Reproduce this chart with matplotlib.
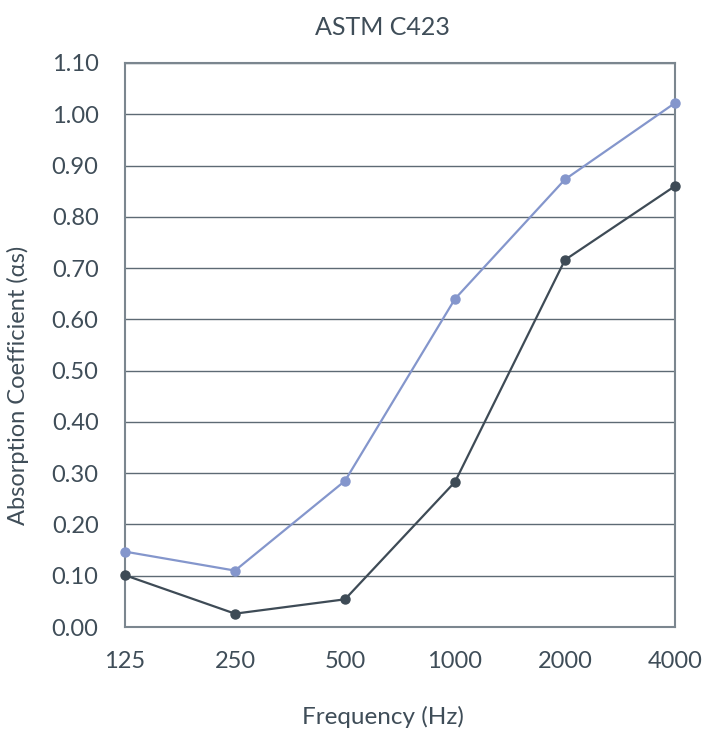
import matplotlib
matplotlib.use("Agg")
import matplotlib.pyplot as plt

freqs = ["125", "250", "500", "1000", "2000", "4000"]
series_a = [0.147, 0.110, 0.285, 0.640, 0.873, 1.022]
series_b = [0.101, 0.026, 0.054, 0.283, 0.716, 0.860]
yticks = [0.0, 0.1, 0.2, 0.3, 0.4, 0.5, 0.6, 0.7, 0.8, 0.9, 1.0, 1.1]

plt.rcParams['font.family'] = ['Lato', 'DejaVu Sans']
text_color = "#3f4d58"
fs = 17

W, H = 703, 731
fig = plt.figure(figsize=(W / 100, H / 100), dpi=100)
L, R, B, T = 125 / W, 675 / W, 1 - 627 / H, 1 - 63 / H
ax = fig.add_axes([L, B, R - L, T - B])

x = list(range(len(freqs)))
ax.plot(x, series_a, color="#8496cc", lw=1.6, marker="o", ms=6.5, zorder=3, clip_on=False)
ax.plot(x, series_b, color="#3e4b56", lw=1.6, marker="o", ms=6.5, zorder=3, clip_on=False)

ax.set_xlim(0, len(freqs) - 1)
ax.set_ylim(0, 1.1)
ax.set_xticks(x)
ax.set_xticklabels(freqs)
ax.set_yticks(yticks)
ax.set_yticklabels([f"{v:.2f}" for v in yticks])
ax.tick_params(axis="both", length=0, labelsize=fs, colors=text_color)
ax.tick_params(axis="x", pad=17)
ax.tick_params(axis="y", pad=19)
ax.grid(axis="y", color="#5d6a74", lw=1.0)
ax.set_axisbelow(True)
for s in ax.spines.values():
    s.set_color("#7b868f")
    s.set_linewidth(1.5)

fig.text(382 / W, 1 - 35 / H, "ASTM C423", fontsize=18, color=text_color,
         ha="center", va="baseline")

ax.set_xlabel("Frequency (Hz)", fontsize=17.5, color=text_color)
ax.xaxis.set_label_coords((383 / W - L) / (R - L), ((1 - 717 / H) - B) / (T - B))
ax.xaxis.label.set_va("center")
ax.set_ylabel("Absorption Coefficient (\u03b1s)", fontsize=fs, color=text_color)
ax.yaxis.set_label_coords(((18 / W) - L) / (R - L), ((1 - 385 / H) - B) / (T - B))
ax.yaxis.label.set_va("center")

fig.savefig("out.png", dpi=100)
